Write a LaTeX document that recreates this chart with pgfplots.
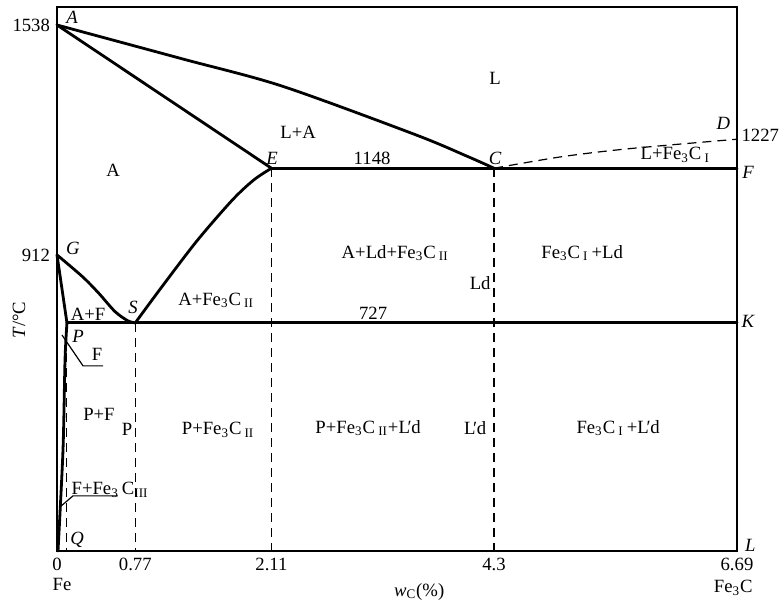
\documentclass[border=0pt]{standalone}
\usepackage{fontspec}
\setmainfont{Liberation Serif}
\usepackage{pgfplots}
\pgfplotsset{compat=1.18}

\newcommand{\Lp}{L\kern-0.12em′\kern-0.02em d}

\begin{document}
\begin{tikzpicture}[font=\fontsize{9.35}{11}\selectfont]
\begin{axis}[
  name=ax,
  scale only axis, width=340pt, height=272pt,
  xmin=0, xmax=6.69, ymin=106, ymax=1587,
  clip=false,
  axis line style={line width=0.65pt},
  xtick={0,0.77,2.11,4.3,6.69},
  xticklabels={0,0.77,2.11,4.3,6.69},
  ytick={912,1538},
  yticklabels={912,1538},
  major tick length=0pt,
  tick label style={font=\fontsize{9.35}{11}\selectfont},
  /pgf/number format/assume math mode=true,
  phase/.style={black, line width=1.4pt, line join=round, line cap=round, mark=none},
  dash/.style={black, line width=0.6pt, dash pattern=on 4.5pt off 3pt, mark=none},
]

% liquidus AC
\addplot[phase, smooth] coordinates {(0,1538) (1.23,1446) (2.21,1372) (3.52,1240) (4.04,1180) (4.3,1148)};
% solidus AE
\addplot[phase] coordinates {(0,1538) (2.11,1148)};
% ES (Acm)
\addplot[phase, smooth] coordinates {(0.77,727) (1.015,819) (1.376,950) (1.727,1062) (1.94,1117) (2.11,1148)};
% GS (A3)
\addplot[phase, smooth] coordinates {(0,912) (0.25,853) (0.41,808) (0.57,758) (0.695,733) (0.77,727)};
% GP
\addplot[phase] coordinates {(0,912) (0.098,727)};
% PQ
\addplot[phase, smooth] coordinates {(0.098,727) (0.079,626) (0.059,381) (0.01,106)};
% eutectic line ECF
\addplot[phase] coordinates {(2.11,1148) (6.69,1148)};
% eutectoid line PSK
\addplot[phase] coordinates {(0.098,727) (6.69,727)};
% CD (dashed)
\addplot[dash, smooth] coordinates {(4.3,1148) (4.957,1179) (5.62,1201) (6.69,1227)};
% vertical composition guides
\addplot[dash] coordinates {(0.094,727) (0.094,106)};
\addplot[dash] coordinates {(0.77,727) (0.77,106)};
\addplot[dash] coordinates {(2.11,1148) (2.11,106)};
\addplot[dash] coordinates {(4.3,1148) (4.3,106)};

% leader lines
\draw[line width=0.6pt] (axis cs:0.049,694) -- (axis cs:0.256,610) -- (axis cs:0.453,610);
\draw[line width=0.6pt] (axis cs:0.03,226) -- (axis cs:0.157,256) -- (axis cs:0.6,256);

% point letters
\node at (axis cs:0.148,1560) {\textit{A}};
\node at (axis cs:2.116,1176) {\textit{E}};
\node at (axis cs:4.311,1176) {\textit{C}};
\node at (axis cs:6.555,1271) {\textit{D}};
\node at (axis cs:6.80,1138) {\textit{F}};
\node at (axis cs:0.157,931) {\textit{G}};
\node at (axis cs:0.748,770) {\textit{S}};
\node at (axis cs:0.207,689) {\textit{P}};
\node at (axis cs:6.80,730) {\textit{K}};
\node at (axis cs:0.197,136) {\textit{Q}};
\node at (axis cs:6.82,120) {\textit{L}};

% temperatures
\node at (axis cs:3.10,1176) {1148};
\node at (axis cs:3.11,754) {727};
\node at (axis cs:6.919,1239) {1227};

% phase regions
\node at (axis cs:4.311,1394) {L};
\node at (axis cs:2.372,1247) {L+A};
\node at (axis cs:0.551,1143) {A};
\node at (axis cs:6.083,1184) {L+Fe\textsubscript{3}C\,\textsubscript{I}};
\node at (axis cs:3.327,917) {A+Ld+Fe\textsubscript{3}C\,\textsubscript{II}};
\node at (axis cs:5.167,917) {Fe\textsubscript{3}C\,\textsubscript{I}\,+Ld};
\node at (axis cs:4.163,836) {Ld};
\node at (axis cs:1.565,789) {A+Fe\textsubscript{3}C\,\textsubscript{II}};
\node at (axis cs:0.305,749) {A+F};
\node at (axis cs:0.394,640) {F};
\node at (axis cs:0.413,477) {P+F};
\node at (axis cs:0.689,436) {P};
\node at (axis cs:1.585,436) {P+Fe\textsubscript{3}C\,\textsubscript{II}};
\node at (axis cs:3.061,441) {P+Fe\textsubscript{3}C\,\textsubscript{II}+\Lp};
\node at (axis cs:4.114,441) {\Lp};
\node at (axis cs:5.52,441) {Fe\textsubscript{3}C\,\textsubscript{I}\,+\Lp};
\node at (axis cs:0.522,272) {F+Fe\textsubscript{3}\,C\textsubscript{III}};

% axis titles and end members
\node[rotate=90] at (axis cs:-0.374,735) {\textit{T}/°C};
\node at (axis cs:3.563,-5) {\textit{w}\textsubscript{C}(\%)};
\node at (axis cs:0.05,14) {Fe};
\node at (axis cs:6.653,6) {Fe\textsubscript{3}C};
\end{axis}
\pgfresetboundingbox
\path[use as bounding box] ([xshift=-28.5pt,yshift=-28.5pt]ax.south west) rectangle ++(391.5pt,304pt);
\end{tikzpicture}
\end{document}
